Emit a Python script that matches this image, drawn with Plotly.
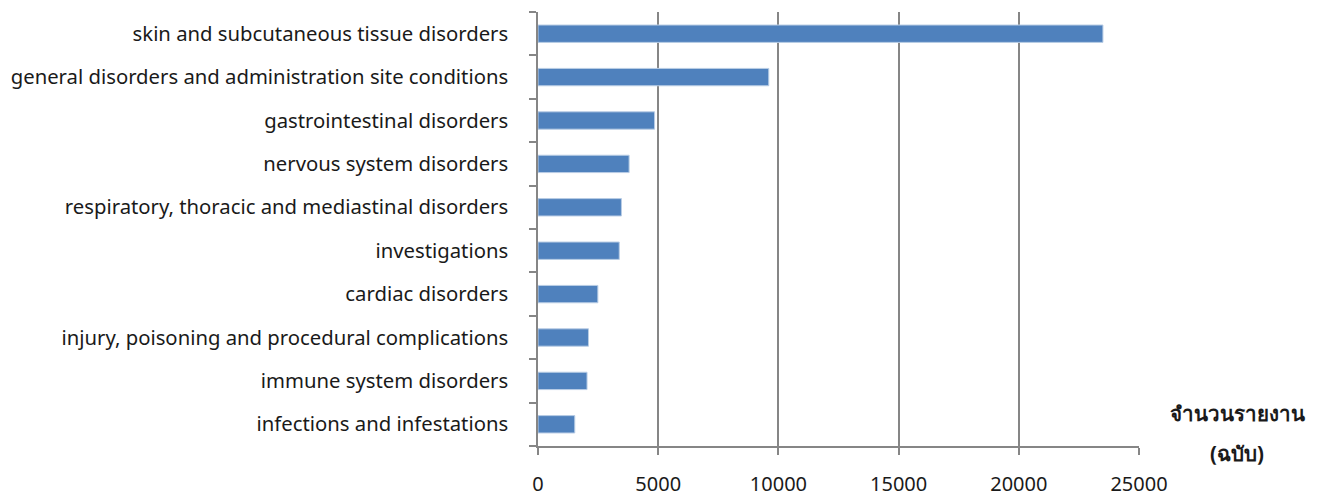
import plotly.graph_objects as go

# Adverse event report counts by system organ class
categories = [
    "skin and subcutaneous tissue disorders",
    "general disorders and administration site conditions",
    "gastrointestinal disorders",
    "nervous system disorders",
    "respiratory, thoracic and mediastinal disorders",
    "investigations",
    "cardiac disorders",
    "injury, poisoning and procedural complications",
    "immune system disorders",
    "infections and infestations",
]
reports = [23500, 9600, 4850, 3790, 3470, 3380, 2490, 2100, 2040, 1530]
x_ticks = [0, 5000, 10000, 15000, 20000, 25000]
axis_title = ["จำนวนรายงาน", "(ฉบับ)"]

AXIS_GREY = "#868686"
FONT = "Noto Sans, DejaVu Sans, sans-serif"

fig = go.Figure(
    go.Bar(
        x=reports,
        y=categories,
        orientation="h",
        marker=dict(color="#4F81BD", line=dict(color="#B9CDE5", width=1)),
        hoverinfo="x+y",
    )
)

fig.update_layout(
    width=1320,
    height=497,
    margin=dict(l=538, r=181, t=12, b=51),
    paper_bgcolor="white",
    plot_bgcolor="white",
    bargap=0.6,
    showlegend=False,
    font=dict(family=FONT, size=20, color="#1a1a1a"),
)

fig.update_xaxes(
    range=[0, 25000],
    tickvals=x_ticks,
    ticktext=[str(v) for v in x_ticks],
    automargin=False,
    showgrid=True,
    gridcolor=AXIS_GREY,
    gridwidth=1.5,
    zeroline=False,
    showline=True,
    linecolor=AXIS_GREY,
    linewidth=1.5,
    ticks="outside",
    ticklen=7,
    tickcolor=AXIS_GREY,
    tickwidth=1.5,
    ticklabelstandoff=12,
    tickfont=dict(size=20),
)

fig.update_yaxes(
    categoryorder="array",
    categoryarray=categories[::-1],
    automargin=False,
    showgrid=False,
    showline=True,
    linecolor=AXIS_GREY,
    linewidth=1.5,
    ticks="outside",
    tickson="boundaries",
    ticklen=7,
    tickcolor=AXIS_GREY,
    tickwidth=1.5,
    ticklabelstandoff=24,
    tickfont=dict(size=20.3),
)

# Two-line axis title to the right of the plot
for text, ypix in zip(axis_title, [413, 453]):
    fig.add_annotation(
        text=f"<b>{text}</b>",
        xref="paper",
        yref="paper",
        x=(1237 - 538) / 601,
        y=(446 - ypix) / 434,
        xanchor="center",
        yanchor="middle",
        showarrow=False,
        font=dict(size=20.5, family=FONT),
    )

fig.write_html("out.html")
